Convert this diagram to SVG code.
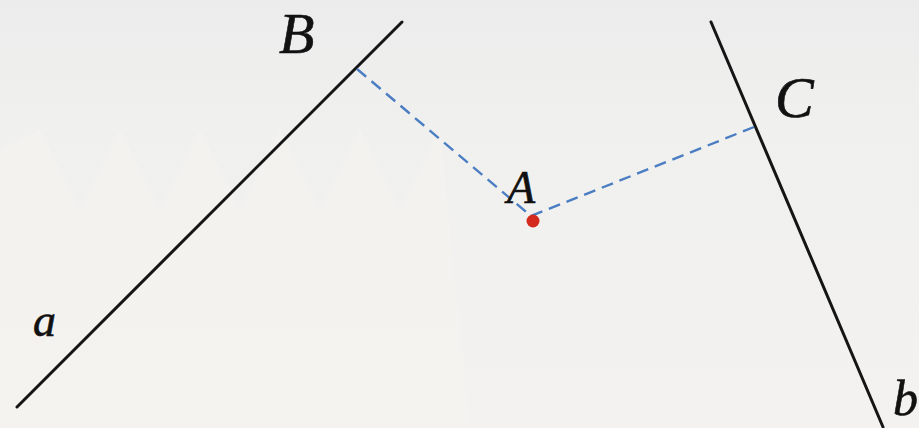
<svg xmlns="http://www.w3.org/2000/svg" width="919" height="428" viewBox="0 0 919 428">
  <defs>
    <linearGradient id="bg" x1="0" y1="0" x2="0" y2="1">
      <stop offset="0" stop-color="#ececec"/>
      <stop offset="0.3" stop-color="#f0f0ef"/>
      <stop offset="1" stop-color="#f3f2f0"/>
    </linearGradient>
    <style>
      .ln { stroke: #151515; stroke-width: 3; stroke-linecap: round; fill: none; }
      .dash { stroke: #4a7dc2; stroke-width: 2.4; stroke-dasharray: 12 7; fill: none; }
      .lbl { font-family: "Liberation Serif", "DejaVu Serif", serif; font-style: italic; fill: #111; stroke: #111; stroke-width: 0.6; }
      .pat { fill: #f5f3ee; opacity: 0.6; }
    </style>
  </defs>
  <rect width="919" height="428" fill="url(#bg)"/>
  <g id="background-pattern">
    <polygon class="pat" points="0,428 0,150 40,130 80,210 120,130 160,210 200,130 240,210 280,130 320,210 360,130 400,210 440,130 470,428"/>
  </g>
  <g id="line-a">
    <line class="ln" x1="17" y1="407" x2="402" y2="22"/>
    <text class="lbl" x="33" y="336" font-size="46">a</text>
  </g>
  <g id="line-b">
    <line class="ln" x1="711" y1="22" x2="883" y2="427"/>
    <text class="lbl" x="893" y="415" font-size="50">b</text>
  </g>
  <g id="connectors">
    <polyline class="dash" points="357,69 531,216 754,127"/>
  </g>
  <g id="point-B">
    <text class="lbl" x="279" y="53" font-size="58">B</text>
  </g>
  <g id="point-C">
    <text class="lbl" x="775" y="117" font-size="58">C</text>
  </g>
  <g id="point-A">
    <circle cx="533" cy="221" r="6.5" fill="#d42a1e"/>
    <text class="lbl" x="507" y="203" font-size="46">A</text>
  </g>
</svg>
